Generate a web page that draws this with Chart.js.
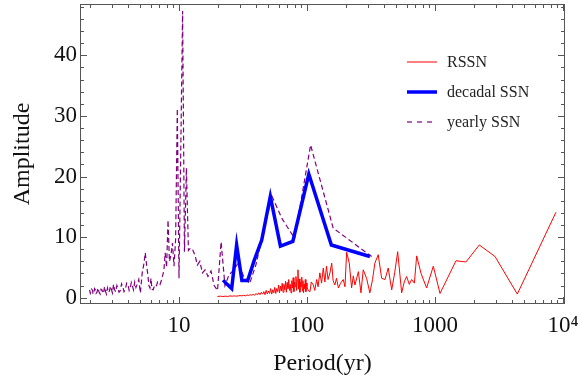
<!DOCTYPE html>
<html>
<head>
<meta charset="utf-8">
<script src="https://cdn.jsdelivr.net/npm/chart.js@4.4.1/dist/chart.umd.min.js"></script>
<style>
  html, body { margin: 0; padding: 0; background: #fff; }
  canvas { display: block; }
</style>
</head>
<body>
<canvas id="chart" width="580" height="383"></canvas>
<script>
// Periodogram data (period in years, amplitude)
const rssnPeriod = [
  20, 21, 22, 23, 24, 25, 26, 27, 28, 29, 30, 31, 32, 33, 34, 35, 36, 37, 38, 39,
  40, 41, 42, 43, 44, 45, 46, 47, 48, 49, 50, 51, 52, 53, 54, 55, 56, 57, 58, 59,
  60, 61, 62, 63, 64, 65, 66, 67, 68, 69, 70, 71, 72, 73, 74, 75, 76, 77, 78, 79,
  80, 81, 82, 83, 84, 85, 86, 87, 88, 89, 90, 91, 92, 93, 94, 95, 96, 97, 98, 99,
  100, 102, 105.5, 108, 112, 115, 119, 122, 126, 130, 134, 138, 142, 146, 151, 156,
  160, 165, 170, 176, 183, 192, 198, 204, 214, 223, 230, 237, 252, 264, 275, 292,
  310, 325, 339, 360, 383, 407, 431, 459, 485, 511, 549, 575, 600, 630, 657, 690,
  719, 778, 860, 970, 1094, 1459, 1746, 2218, 2943, 4395, 8810
];
const rssnAmp = [
  0.2, 0.25, 0.2, 0.25, 0.2, 0.3, 0.25, 0.3, 0.25, 0.3, 0.35, 0.3, 0.4, 0.3, 0.45, 0.35, 0.5, 0.4, 0.55, 0.4,
  0.7, 0.45, 0.8, 0.5, 0.9, 0.6, 1.0, 0.5, 1.2, 0.6, 1.1, 0.7, 1.5, 0.6, 1.3, 0.8, 1.7, 0.7, 1.5, 1.0,
  2.1, 0.8, 1.9, 1.1, 2.4, 0.9, 2.2, 1.3, 2.7, 0.9, 2.5, 1.5, 3.0, 1.2, 2.2, 0.8, 2.8, 1.6, 3.3, 1.0,
  2.6, 1.8, 3.5, 1.2, 2.9, 4.6, 1.4, 3.1, 0.9, 2.6, 1.8, 3.4, 1.1, 2.8, 0.8, 2.2, 1.5, 3.0, 1.0, 2.4,
  1.9, 1.2, 1.0, 2.6, 2.1, 1.2, 3.0, 1.8, 4.1, 2.4, 4.9, 2.6, 5.2, 3.0, 4.1, 5.7,
  2.8, 2.1, 3.2, 1.6, 2.4, 3.0, 1.8, 7.5, 5.7, 1.6, 3.6, 2.1, 4.3, 0.8, 4.6, 3.2,
  0.8, 3.0, 5.7, 7.1, 3.2, 3.0, 4.9, 1.3, 4.2, 7.6, 0.8, 2.6, 3.5, 2.2, 3.0, 2.4,
  6.9, 4.0, 1.6, 5.2, 0.7, 6.1, 5.9, 8.7, 6.8, 0.6, 14.1
];

const decadalPeriod = [22.1, 23.8, 25.8, 28.2, 31, 34.4, 38.75, 44.3, 51.7, 62, 77.5, 103.3, 155, 310];
const decadalAmp = [2.9, 2.2, 1.5, 8.7, 2.85, 2.85, 6.2, 9.5, 16.7, 8.5, 9.3, 20.4, 8.7, 6.8];

const yearlyPeriod = [
  2.0, 2.03, 2.05, 2.08, 2.11, 2.13, 2.16, 2.19, 2.22, 2.25, 2.29, 2.32, 2.35, 2.39, 2.42, 2.46,
  2.5, 2.54, 2.58, 2.62, 2.67, 2.71, 2.76, 2.81, 2.86, 2.91, 2.96, 3.02, 3.08, 3.14, 3.2, 3.27,
  3.33, 3.4, 3.48, 3.56, 3.64, 3.72, 3.81, 3.9, 4.0, 4.08, 4.16, 4.24, 4.32, 4.41, 4.51, 4.61,
  4.71, 4.85, 4.99, 5.16, 5.33, 5.45, 5.61, 5.71, 5.82, 5.93, 6.04, 6.15, 6.27, 6.4, 6.56, 6.67,
  6.81, 6.96, 7.11, 7.27, 7.44, 7.62, 7.8, 8.0, 8.21, 8.42, 8.65, 8.89, 9.14, 9.41, 9.7, 10.0,
  10.32, 10.67, 11.03, 11.43, 11.85, 12.31, 12.8, 13.33, 13.91, 14.55, 15.24, 16, 16.84, 17.78, 18.82, 20,
  21.33, 22.86, 24.62, 26.67, 29.09, 32, 35.56, 40, 45.71, 53.33, 64, 80, 106.7, 160, 320
];
const yearlyAmp = [
  1.3, 0.7, 0.9, 1.4, 1.2, 0.6, 0.8, 1.5, 1.3, 0.7, 0.9, 1.6, 1.2, 0.8, 0.6, 1.4,
  1.3, 0.7, 0.9, 1.8, 1.0, 0.6, 1.6, 0.9, 1.1, 1.9, 1.4, 0.8, 2.2, 1.3, 1.0, 2.0,
  1.5, 0.9, 1.2, 2.3, 1.8, 1.0, 1.4, 2.4, 2.1, 1.2, 1.6, 2.5, 2.0, 1.3, 2.6, 1.7,
  2.2, 3.0, 0.8, 4.1, 5.7, 7.4, 5.0, 3.8, 2.0, 1.6, 3.2, 1.4, 1.3, 1.8, 2.2, 2.0,
  2.6, 2.5, 2.2, 2.8, 3.6, 4.5, 7.4, 5.0, 12.8, 6.0, 7.0, 9.0, 5.2, 9.6, 31.2, 3.2,
  24, 47.3, 7.6, 21.4, 7.8, 8.2, 7.9, 7.0, 5.4, 6.0, 4.1, 4.6, 3.5, 4.4, 2.0, 1.2,
  9.2, 2.0, 3.8, 4.5, 5.8, 3.5, 2.3, 5.5, 11, 16.7, 13, 9.8, 25.2, 11.5, 6.8
];

const xTicks = [10, 100, 1000, 10000];
const xTickLabels = ['10', '100', '1000', '10\u2074'];
const yTicks = [0, 10, 20, 30, 40];

const serif = "'Liberation Serif', 'Times New Roman', serif";

const pts = (px, py) => px.map((p, i) => ({ x: p, y: py[i] }));

// Mathematica-style frame with inward ticks on all four sides, plus the legend
const frameTicks = {
  id: 'frameTicks',
  afterDatasetsDraw(chart) {
    const { ctx, chartArea: a, scales: { x, y } } = chart;
    ctx.save();
    ctx.strokeStyle = '#555';
    ctx.lineWidth = 1;
    ctx.strokeRect(a.left + 0.5, a.top + 0.5, a.right - a.left - 1, a.bottom - a.top - 1);

    ctx.beginPath();
    [1, 10, 100, 1000, 10000].forEach(d => {
      for (let m = 1; m <= 9; m++) {
        const v = m * d;
        if (v < x.min || v > x.max) continue;
        const px = Math.round(x.getPixelForValue(v)) + 0.5;
        const len = m === 1 ? 7 : 4;
        ctx.moveTo(px, a.bottom); ctx.lineTo(px, a.bottom - len);
        ctx.moveTo(px, a.top); ctx.lineTo(px, a.top + len);
      }
    });
    for (let v = 0; v <= 48; v += 2) {
      const py = Math.round(y.getPixelForValue(v)) + 0.5;
      const len = v % 10 === 0 ? 7 : 4;
      ctx.moveTo(a.left, py); ctx.lineTo(a.left + len, py);
      ctx.moveTo(a.right, py); ctx.lineTo(a.right - len, py);
    }
    ctx.stroke();

    // legend
    const items = [
      { text: 'RSSN', color: '#ff0000', width: 1, dash: [] },
      { text: 'decadal SSN', color: '#0000ff', width: 3.5, dash: [] },
      { text: 'yearly SSN', color: '#800080', width: 1.2, dash: [5, 5] }
    ];
    ctx.font = '16px ' + serif;
    ctx.textBaseline = 'middle';
    ctx.textAlign = 'left';
    items.forEach((it, i) => {
      const ly = 62 + i * 30;
      ctx.strokeStyle = it.color;
      ctx.lineWidth = it.width;
      ctx.setLineDash(it.dash);
      ctx.beginPath();
      ctx.moveTo(407, ly); ctx.lineTo(437, ly);
      ctx.stroke();
      ctx.setLineDash([]);
      ctx.fillStyle = '#222';
      ctx.fillText(it.text, 447, ly + 1);
    });
    ctx.restore();
  }
};

new Chart(document.getElementById('chart'), {
  type: 'scatter',
  data: {
    datasets: [
      {
        label: 'decadal SSN',
        data: pts(decadalPeriod, decadalAmp),
        showLine: true, borderColor: '#0000ff', borderWidth: 3.5,
        pointRadius: 0, tension: 0
      },
      {
        label: 'yearly SSN',
        data: pts(yearlyPeriod, yearlyAmp),
        showLine: true, borderColor: '#800080', borderWidth: 1.2,
        borderDash: [5, 3], pointRadius: 0, tension: 0
      },
      {
        label: 'RSSN',
        data: pts(rssnPeriod, rssnAmp),
        showLine: true, borderColor: '#ff0000', borderWidth: 1,
        pointRadius: 0, tension: 0
      }
    ]
  },
  options: {
    responsive: false,
    animation: false,
    devicePixelRatio: 1,
    layout: { padding: { top: 4, right: 15, left: 0, bottom: 0 } },
    plugins: {
      legend: { display: false },
      tooltip: { enabled: false }
    },
    scales: {
      x: {
        type: 'logarithmic',
        min: 1.685, max: 10366,
        grid: { display: false, drawTicks: false },
        border: { display: false },
        afterBuildTicks(scale) { scale.ticks = xTicks.map(v => ({ value: v })); },
        afterFit(scale) {
          scale.height = 79;
          scale.paddingLeft = 0;
          scale.paddingRight = 0;
        },
        ticks: {
          color: '#111', padding: 8, maxRotation: 0, autoSkip: false,
          font: { family: serif, size: 23 },
          callback: (v) => xTickLabels[xTicks.indexOf(v)]
        },
        title: {
          display: true, text: 'Period(yr)', color: '#111',
          font: { family: serif, size: 24 }, padding: { bottom: 5, top: 0 }
        }
      },
      y: {
        min: -1.04, max: 48.47,
        grid: { display: false, drawTicks: false },
        border: { display: false },
        afterBuildTicks(scale) { scale.ticks = yTicks.map(v => ({ value: v })); },
        afterFit(scale) {
          scale.width = 80;
          scale.paddingTop = 0;
          scale.paddingBottom = 0;
        },
        ticks: {
          color: '#111', padding: 3,
          font: { family: serif, size: 23 }
        },
        title: {
          display: true, text: 'Amplitude', color: '#111',
          font: { family: serif, size: 24 }, padding: { top: 8, bottom: 0 }
        }
      }
    }
  },
  plugins: [frameTicks]
});
</script>
</body>
</html>
